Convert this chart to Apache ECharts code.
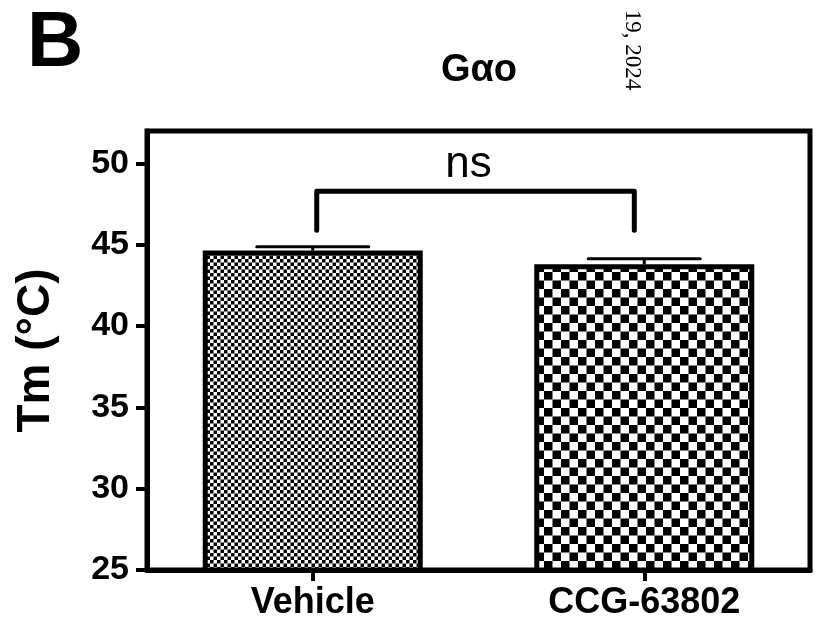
<!DOCTYPE html>
<html>
<head>
<meta charset="utf-8">
<script src="https://cdn.jsdelivr.net/npm/echarts@6/dist/echarts.min.js"></script>
<style>
html,body{margin:0;padding:0;background:#fff;}
#chart{width:821px;height:625px;}
</style>
</head>
<body>
<div id="chart"></div>
<script>
// ---- data ----
var categories = ['Vehicle', 'CCG-63802'];
var means = [44.65, 43.80];
var errTops = [44.88, 44.14];
var yTicks = [25, 30, 35, 40, 45, 50];
var sigLabel = 'ns';
var bracketY = 48.3;
var bracketFoot = 45.9;
var sigTextY = 49.9;

function makePattern(cell, size) {
  var c = document.createElement('canvas');
  c.width = size; c.height = size;
  var ctx = c.getContext('2d');
  ctx.fillStyle = '#fff';
  ctx.fillRect(0, 0, size, size);
  ctx.fillStyle = '#000';
  ctx.fillRect(0, 0, cell, cell);
  ctx.fillRect(cell, cell, cell, cell);
  return c;
}
var patterns = [
  { image: makePattern(3.5, 7), repeat: 'repeat' },
  { image: makePattern(8.5, 17), repeat: 'repeat' }
];

var chart = echarts.init(document.getElementById('chart'));
var FONT = '"Liberation Sans", Arial, Helvetica, sans-serif';

var option = {
  backgroundColor: '#fff',
  animation: false,
  grid: {
    left: 147, right: 11, top: 131, bottom: 55,
    show: true, borderColor: '#000', borderWidth: 5
  },
  xAxis: {
    type: 'category',
    data: categories,
    axisLine: { show: true, lineStyle: { color: '#000', width: 5 } },
    axisTick: { show: true, alignWithLabel: true, length: 11, lineStyle: { color: '#000', width: 4 } },
    axisLabel: { color: '#000', fontFamily: FONT, fontWeight: 'bold', fontSize: 36, margin: 15 },
    splitLine: { show: false }
  },
  yAxis: {
    type: 'value',
    min: 25, max: 52, interval: 5,
    name: 'Tm (°C)',
    nameLocation: 'middle',
    nameGap: 88,
    nameRotate: 90,
    nameTextStyle: { color: '#000', fontFamily: FONT, fontWeight: 'bold', fontSize: 46 },
    axisLine: { show: true, lineStyle: { color: '#000', width: 5 } },
    axisTick: { show: true, length: 11, lineStyle: { color: '#000', width: 4 }, customValues: yTicks },
    axisLabel: { color: '#000', fontFamily: FONT, fontWeight: 'bold', fontSize: 34, margin: 18, customValues: yTicks },
    splitLine: { show: false }
  },
  graphic: [
    { type: 'text', left: 27, top: 5, style: { text: 'B', font: 'bold 78px ' + FONT, fill: '#000' } },
    { type: 'text', x: 479, y: 71, style: { text: 'Gαo', font: 'bold 38px ' + FONT, fill: '#000', align: 'center', verticalAlign: 'middle' } },
    { type: 'text', x: 632, y: 50, rotation: -Math.PI / 2, style: { text: '19, 2024', font: '23px "Liberation Serif", "Times New Roman", serif', fill: '#000', align: 'center', verticalAlign: 'middle' } }
  ],
  series: [
    {
      type: 'bar',
      data: means.map(function (v, i) {
        return { value: v, itemStyle: { color: patterns[i] } };
      }),
      barWidth: 220,
      itemStyle: { borderColor: '#000', borderWidth: 5 },
      z: 2
    },
    {
      type: 'custom',
      data: means.map(function (v, i) { return [i, v, errTops[i]]; }),
      z: 3,
      renderItem: function (params, api) {
        var base = api.coord([api.value(0), api.value(1)]);
        var top = api.coord([api.value(0), api.value(2)]);
        var half = 56;
        return {
          type: 'group',
          children: [
            { type: 'line', shape: { x1: top[0], y1: base[1], x2: top[0], y2: top[1] }, style: { stroke: '#000', lineWidth: 3 } },
            { type: 'line', shape: { x1: top[0] - half, y1: top[1], x2: top[0] + half, y2: top[1] }, style: { stroke: '#000', lineWidth: 3, lineCap: 'round' } }
          ]
        };
      }
    },
    {
      type: 'custom',
      data: [[0, 1]],
      z: 4,
      renderItem: function (params, api) {
        var band = api.size([1, 0])[0];
        var p0 = api.coord([0, bracketY]);
        var p1 = api.coord([1, bracketY]);
        var f = api.coord([0, bracketFoot]);
        var t = api.coord([0, sigTextY]);
        var x0 = p0[0] + band * 0.012;
        var x1 = p1[0] - band * 0.03;
        return {
          type: 'group',
          children: [
            { type: 'polyline', shape: { points: [[x0, f[1]], [x0, p0[1]], [x1, p0[1]], [x1, f[1]]] },
              style: { stroke: '#000', lineWidth: 5, fill: null, lineCap: 'round', lineJoin: 'round' } },
            { type: 'text', x: (x0 + x1) / 2 - 7, y: t[1], style: { text: sigLabel, font: '44px ' + FONT, fill: '#000', align: 'center', verticalAlign: 'middle' } }
          ]
        };
      }
    }
  ]
};
chart.setOption(option);
</script>
</body>
</html>
